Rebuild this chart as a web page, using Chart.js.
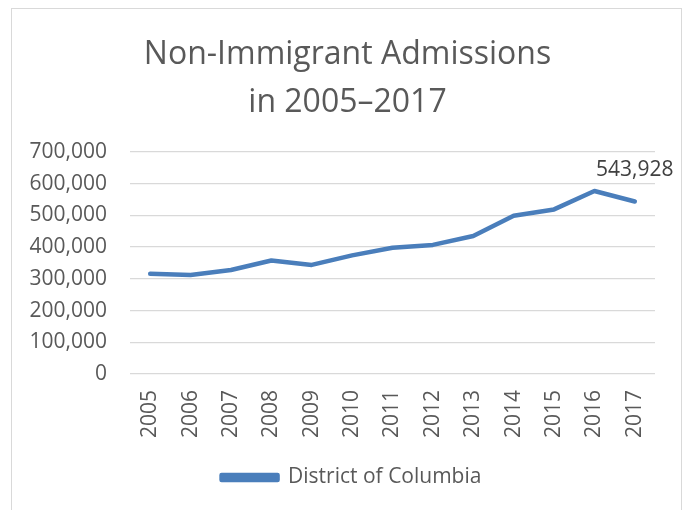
<!DOCTYPE html>
<html>
<head>
<meta charset="utf-8">
<script src="https://cdn.jsdelivr.net/npm/chart.js@4"></script>
<style>
  html, body { margin: 0; padding: 0; background: #fff; }
  #wrap { position: relative; width: 684px; height: 510px; }
  #frame { position: absolute; left: 11px; top: 8px; width: 671px; height: 520px;
           border: 1px solid #d9d9d9; box-sizing: border-box; pointer-events: none; }
  canvas { position: absolute; left: 0; top: 0; }
</style>
</head>
<body>
<div id="wrap">
  <canvas id="chart" width="684" height="510"></canvas>
  <div id="frame"></div>
</div>
<script>
// Non-immigrant admissions, District of Columbia
const YEARS = ["2005", "2006", "2007", "2008", "2009", "2010", "2011",
               "2012", "2013", "2014", "2015", "2016", "2017"];
const ADMISSIONS = [316000, 312000, 328000, 358000, 344000, 374000, 398000,
                    407000, 435000, 499000, 519000, 577000, 543928];
const SERIES_NAME = "District of Columbia";
const TITLE_LINES = ["Non-Immigrant Admissions", "in 2005\u20132017"];

const FONT = "'Open Sans', 'Noto Sans', sans-serif";
const BLUE = "#4a7ebb";
const GREY_TEXT = "#595959";

// Only the last point carries a value label in the reference.
const lastPointLabel = {
  id: "lastPointLabel",
  afterDatasetsDraw(chart) {
    const meta = chart.getDatasetMeta(0);
    const i = meta.data.length - 1;
    const pt = meta.data[i];
    const ctx = chart.ctx;
    ctx.save();
    ctx.font = `21px ${FONT}`;
    ctx.fillStyle = "#404040";
    ctx.textAlign = "center";
    ctx.textBaseline = "middle";
    ctx.fillText(ADMISSIONS[i].toLocaleString("en-US"), pt.x, pt.y - 31);
    ctx.restore();
  },
};

// Excel centres title and legend a bit right of the canvas middle;
// nudge the boxes after layout so they line up with the original.
const nudgeBoxes = {
  id: "nudgeBoxes",
  afterLayout(chart) {
    if (chart.titleBlock) { chart.titleBlock.left += 20; chart.titleBlock.right += 20; }
    if (chart.legend) { chart.legend.left += 24; chart.legend.right += 24; }
  },
};

new Chart(document.getElementById("chart").getContext("2d"), {
  type: "line",
  data: {
    labels: YEARS,
    datasets: [{
      label: SERIES_NAME,
      data: ADMISSIONS,
      borderColor: BLUE,
      backgroundColor: BLUE,
      borderWidth: 4.5,
      borderCapStyle: "round",
      borderJoinStyle: "round",
      pointRadius: 0,
      tension: 0,
      fill: false,
    }],
  },
  options: {
    responsive: false,
    animation: false,
    layout: { padding: { left: 0, right: 29, top: 0, bottom: 12 } },
    plugins: {
      title: {
        display: true,
        text: TITLE_LINES,
        color: GREY_TEXT,
        font: { family: FONT, size: 32, weight: "normal", lineHeight: 1.5 },
        padding: { top: 31, bottom: 25 },
      },
      legend: {
        position: "bottom",
        labels: {
          color: GREY_TEXT,
          font: { family: FONT, size: 21 },
          boxWidth: 56,
          boxHeight: 5,
          padding: 10,
        },
      },
      tooltip: { enabled: false },
    },
    scales: {
      x: {
        offset: true,
        grid: { display: false, drawTicks: false },
        border: { display: false },
        ticks: {
          color: GREY_TEXT,
          font: { family: FONT, size: 21 },
          minRotation: 90,
          maxRotation: 90,
          padding: 16,
        },
        afterFit: (scale) => { scale.height = 83; },
      },
      y: {
        min: 0,
        max: 700000,
        grid: { color: "#d9d9d9", lineWidth: 1.3, drawTicks: false },
        border: { display: false },
        ticks: {
          stepSize: 100000,
          color: GREY_TEXT,
          font: { family: FONT, size: 21 },
          padding: 23,
          callback: (v) => v.toLocaleString("en-US"),
        },
        afterFit: (scale) => { scale.width = 130; },
      },
    },
  },
  plugins: [lastPointLabel, nudgeBoxes],
});
</script>
</body>
</html>
